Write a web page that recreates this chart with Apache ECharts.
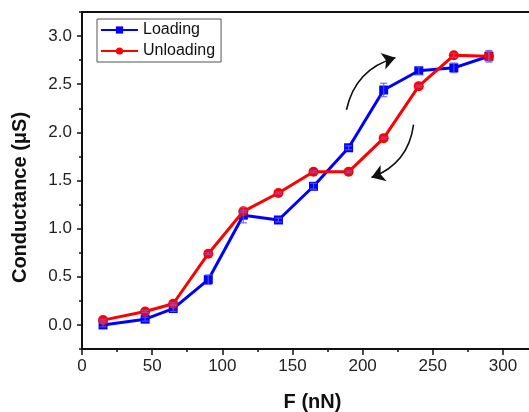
<!DOCTYPE html>
<html>
<head>
<meta charset="utf-8">
<script src="https://cdn.jsdelivr.net/npm/echarts@6/dist/echarts.min.js"></script>
<style>
html,body{margin:0;padding:0;background:#fff;}
#c{width:529px;height:412px;}
</style>
</head>
<body>
<div id="c"></div>
<script>
// ---- data ----
const force = [15, 45, 65, 90, 115, 140, 165, 190, 215, 240, 265, 290];
const loading = [0.00, 0.06, 0.17, 0.47, 1.14, 1.09, 1.44, 1.84, 2.44, 2.64, 2.67, 2.79];
const unloading = [0.05, 0.14, 0.22, 0.74, 1.18, 1.37, 1.59, 1.59, 1.94, 2.48, 2.80, 2.79];
const loadingErr = [0.02, 0.02, 0.03, 0.05, 0.08, 0.02, 0.03, 0.02, 0.07, 0.04, 0.05, 0.06];
const unloadingErr = [0.01, 0.01, 0.01, 0.01, 0.01, 0.01, 0.01, 0.01, 0.01, 0.01, 0.02, 0.05];
const xTicks = [0, 50, 100, 150, 200, 250, 300];
const yTicks = [0.0, 0.5, 1.0, 1.5, 2.0, 2.5, 3.0];
const arrowUp = [[188.5, 2.235], [223.4, 2.775]];
const arrowDown = [[236.3, 2.08], [206.3, 1.53]];

const FONT = 'Arial, "Liberation Sans", sans-serif';
const chart = echarts.init(document.getElementById('c'), null, {renderer: 'canvas'});

function pairs(xs, ys) { return xs.map((x, i) => [x, ys[i]]); }
function errData(xs, ys, es) { return xs.map((x, i) => [x, ys[i] - es[i], ys[i] + es[i]]); }

function errRender(color) {
  return function (params, api) {
    const x = api.value(0);
    const lo = api.coord([x, api.value(1)]);
    const hi = api.coord([x, api.value(2)]);
    const w = 3.5;
    const st = {stroke: color, lineWidth: 1.2};
    return {
      type: 'group',
      children: [
        {type: 'line', shape: {x1: lo[0], y1: lo[1], x2: hi[0], y2: hi[1]}, style: st},
        {type: 'line', shape: {x1: lo[0] - w, y1: lo[1], x2: lo[0] + w, y2: lo[1]}, style: st},
        {type: 'line', shape: {x1: hi[0] - w, y1: hi[1], x2: hi[0] + w, y2: hi[1]}, style: st}
      ]
    };
  };
}

const axisLineStyle = {color: '#111', width: 2};

chart.setOption({
  animation: false,
  backgroundColor: '#fff',
  grid: {left: 82, top: 12, width: 449, height: 337, containLabel: false, outerBoundsMode: 'none'},
  legend: {
    orient: 'vertical', left: 97, top: 19,
    data: ['Loading', 'Unloading'],
    itemWidth: 37, itemHeight: 9, itemGap: 5,
    padding: [3, 6, 3, 3],
    borderColor: '#555', borderWidth: 1,
    textStyle: {fontFamily: FONT, fontSize: 16, color: '#111'}
  },
  xAxis: [
    {
      type: 'value', position: 'bottom', min: 0, max: 320,
      name: 'F (nN)', nameLocation: 'middle', nameGap: 43,
      nameTextStyle: {fontFamily: FONT, fontSize: 20, fontWeight: 'bold', color: '#111', padding: [0, 0, 0, 12]},
      axisLine: {show: true, onZero: false, lineStyle: axisLineStyle},
      axisTick: {show: true, inside: false, length: 6, lineStyle: {color: '#111', width: 1.5}, customValues: xTicks},
      axisLabel: {show: true, margin: 9, fontFamily: FONT, fontSize: 17, color: '#222', customValues: xTicks},
      splitLine: {show: false}
    },
    {
      type: 'value', position: 'bottom', min: 0, max: 320, interval: 25,
      axisLine: {show: false, onZero: false},
      axisTick: {show: true, inside: false, length: 3, lineStyle: {color: '#111', width: 1.5}},
      axisLabel: {show: false}, splitLine: {show: false}
    },
    {
      type: 'value', position: 'top', min: 0, max: 320,
      axisLine: {show: true, onZero: false, lineStyle: axisLineStyle},
      axisTick: {show: false}, axisLabel: {show: false}, splitLine: {show: false}
    }
  ],
  yAxis: [
    {
      type: 'value', position: 'left', min: -0.25, max: 3.25,
      name: 'Conductance (\u03bcS)', nameLocation: 'middle', nameGap: 52,
      nameTextStyle: {fontFamily: FONT, fontSize: 20, fontWeight: 'bold', color: '#111', padding: [0, 34, 0, 0]},
      axisLine: {show: true, onZero: false, lineStyle: axisLineStyle},
      axisTick: {show: true, inside: false, length: 5, lineStyle: {color: '#111', width: 1.5}, customValues: yTicks},
      axisLabel: {show: true, margin: 10, fontFamily: FONT, fontSize: 17, color: '#222',
        customValues: yTicks, formatter: v => v.toFixed(1)},
      splitLine: {show: false}
    },
    {
      type: 'value', position: 'left', min: -0.25, max: 3.25, interval: 0.25,
      axisLine: {show: false, onZero: false},
      axisTick: {show: true, inside: false, length: 3, lineStyle: {color: '#111', width: 1.5}},
      axisLabel: {show: false}, splitLine: {show: false}
    }
  ],
  series: [
    {
      name: 'Loading', type: 'line', data: pairs(force, loading),
      symbol: 'rect', symbolSize: 9, z: 3,
      itemStyle: {color: '#0000ff'}, lineStyle: {color: '#0000ff', width: 3}
    },
    {
      name: 'Unloading', type: 'line', data: pairs(force, unloading),
      symbol: 'circle', symbolSize: 10, z: 4,
      itemStyle: {color: '#ff0000'}, lineStyle: {color: '#ff0000', width: 3}
    },
    {
      type: 'custom', name: 'LoadingErr', data: errData(force, loading, loadingErr),
      renderItem: errRender('rgba(90,90,230,0.85)'), z: 5, silent: true
    },
    {
      type: 'custom', name: 'UnloadingErr', data: errData(force, unloading, unloadingErr),
      renderItem: errRender('rgba(150,80,200,0.8)'), z: 5, silent: true
    },
    {
      type: 'lines', coordinateSystem: 'cartesian2d', silent: true, z: 6,
      symbol: ['none', 'arrow'], symbolSize: 13,
      lineStyle: {color: '#111', width: 1.6, curveness: 0.3, opacity: 1},
      data: [{coords: arrowUp}]
    },
    {
      type: 'lines', coordinateSystem: 'cartesian2d', silent: true, z: 6,
      symbol: ['none', 'arrow'], symbolSize: 13,
      lineStyle: {color: '#111', width: 1.6, curveness: 0.3, opacity: 1},
      data: [{coords: arrowDown}]
    }
  ]
});
</script>
</body>
</html>
